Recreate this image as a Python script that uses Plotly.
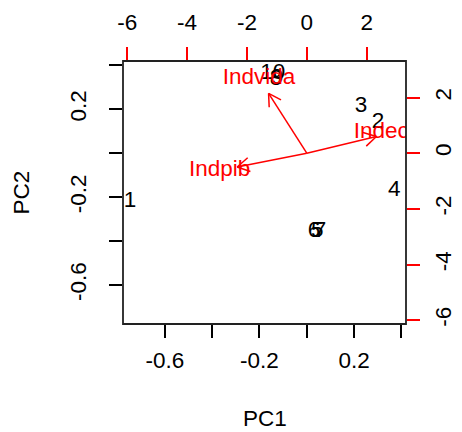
import numpy as np
import plotly.graph_objects as go

# ---- data ----
obs_labels = ["1", "2", "3", "4", "5", "6", "7", "8", "9", "10"]
pc1 = [-0.747, 0.301, 0.229, 0.370, 0.044, 0.031, 0.056, -0.130, -0.125, -0.144]
pc2 = [-0.221, 0.139, 0.211, -0.168, -0.355, -0.355, -0.355, 0.336, 0.340, 0.364]

var_labels = ["Indvida", "Indpib", "Indecon"]
load1 = [-1.595, -2.907, 2.907]
load2 = [2.689, -0.617, 0.752]

prim_range = [-0.777, 0.4195]
ratio = 7.9
sec_range = [prim_range[0] * ratio, prim_range[1] * ratio]

prim_ticks = [-0.6, -0.4, -0.2, 0.0, 0.2, 0.4]
prim_ticktext = ["-0.6", "", "-0.2", "", "0.2", ""]
sec_ticks = [-6, -4, -2, 0, 2]
sec_ticktext = ["-6", "-4", "-2", "0", "2"]

# ---- layout geometry ----
W, H = 462, 432
ml, mr, mt, mb = 123, 56, 61, 108
pw, ph = W - ml - mr, H - mt - mb
FONT = "Liberation Sans, Arial, sans-serif"
FS = 22.5

fig = go.Figure()

# observations
fig.add_trace(go.Scatter(
    x=pc1, y=pc2, text=obs_labels, mode="text",
    textfont=dict(family=FONT, size=FS, color="black"),
    textposition="middle center", hoverinfo="skip", showlegend=False,
    xaxis="x", yaxis="y", cliponaxis=True))

# arrows (tip at 0.8 * loading, R biplot style), open V heads
sx = pw / (sec_range[1] - sec_range[0])
sy = ph / (sec_range[1] - sec_range[0])
head_len = 14.0
ang = np.deg2rad(30)
ax_, ay_ = [], []
for lx, ly in zip(load1, load2):
    tx, ty = 0.8 * lx, 0.8 * ly
    dxp, dyp = tx * sx, ty * sy
    n = np.hypot(dxp, dyp)
    ux, uy = dxp / n, dyp / n
    ax_ += [0, tx, None]
    ay_ += [0, ty, None]
    for s in (1, -1):
        c, si = np.cos(s * ang), np.sin(s * ang)
        rx = ux * c - uy * si
        ry = ux * si + uy * c
        hx = tx - head_len * rx / sx
        hy = ty - head_len * ry / sy
        ax_ += [tx, hx, None]
        ay_ += [ty, hy, None]
fig.add_trace(go.Scatter(
    x=ax_, y=ay_, mode="lines", line=dict(color="#FF0000", width=1.5),
    hoverinfo="skip", showlegend=False, xaxis="x2", yaxis="y2"))

fig.add_trace(go.Scatter(
    x=load1, y=load2, text=var_labels, mode="text",
    textfont=dict(family=FONT, size=FS, color="#FF0000"),
    textposition="middle center", hoverinfo="skip", showlegend=False,
    xaxis="x2", yaxis="y2", cliponaxis=True))

tickfont = dict(family=FONT, size=FS, color="black")
common = dict(showgrid=False, zeroline=False, showline=False, ticks="outside",
              ticklen=13, tickwidth=1.5, tickfont=tickfont, fixedrange=True,
              automargin=False)

fig.update_layout(
    width=W, height=H,
    margin=dict(l=ml, r=mr, t=mt, b=mb, pad=0, autoexpand=False),
    paper_bgcolor="white", plot_bgcolor="white",
    xaxis=dict(range=prim_range, tickvals=prim_ticks, ticktext=prim_ticktext,
               tickcolor="black", ticklabelstandoff=3, **common),
    yaxis=dict(range=prim_range, tickvals=prim_ticks, ticktext=prim_ticktext,
               tickcolor="black", tickangle=-90, ticklabelstandoff=14, **common),
    xaxis2=dict(range=sec_range, tickvals=sec_ticks, ticktext=sec_ticktext,
                overlaying="x", side="top", anchor="y",
                tickcolor="#FF0000", ticklabelstandoff=8, **common),
    yaxis2=dict(range=sec_range, tickvals=sec_ticks, ticktext=sec_ticktext,
                overlaying="y", side="right", anchor="x",
                tickcolor="#FF0000", tickangle=-90, ticklabelstandoff=4, **common),
    shapes=[dict(type="rect", xref="paper", yref="paper", x0=0, x1=1, y0=0, y1=1,
                 line=dict(color="#222222", width=1.8), layer="above")],
    annotations=[
        dict(text="PC1", xref="paper", yref="paper", x=0.5, y=(324 - 418) / ph,
             xanchor="center", yanchor="middle", showarrow=False,
             font=dict(family=FONT, size=FS, color="black")),
        dict(text="PC2", xref="paper", yref="paper", x=(21 - 123) / pw, y=0.5,
             xanchor="center", yanchor="middle", showarrow=False, textangle=-90,
             font=dict(family=FONT, size=FS, color="black")),
    ],
)

fig.write_html("out.html")
